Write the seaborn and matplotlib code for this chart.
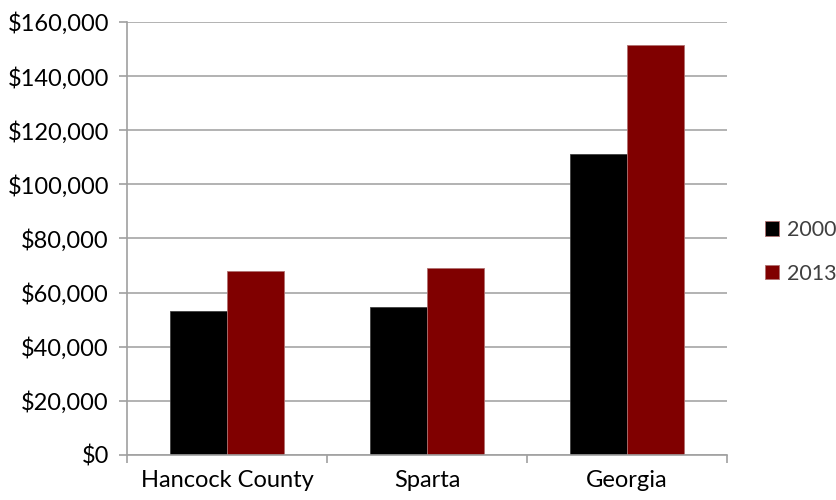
import pandas as pd
import seaborn as sns
import matplotlib.pyplot as plt
from matplotlib.ticker import FuncFormatter, FixedLocator

# median household income
places = ['Hancock County', 'Sparta', 'Georgia']
years = ['2000', '2013']
income_2000 = [53100, 54800, 111300]
income_2013 = [67900, 69100, 151400]

data = pd.DataFrame({
    'place': places * 2,
    'year': [years[0]] * 3 + [years[1]] * 3,
    'income': income_2000 + income_2013,
})

sns.set_style('white')
plt.rcParams['font.family'] = ['Lato', 'DejaVu Sans']

fig = plt.figure(figsize=(8.37, 5), dpi=100)
ax = fig.add_axes([127/837, 45/500, 600/837, 433/500])

sns.barplot(data=data, x='place', y='income', hue='year', order=places,
            hue_order=years, palette=['#000000', '#800000'], saturation=1,
            width=0.57, edgecolor='#b07070', linewidth=0.6, ax=ax)
for p in ax.patches[:3]:
    p.set_edgecolor('#404040')

ax.set_ylim(0, 160000)
ax.set_xlim(-0.5, 2.5)
ax.set_yticks(range(0, 160001, 20000))
ax.yaxis.set_major_formatter(FuncFormatter(lambda v, pos: '${:,.0f}'.format(v)))
ax.yaxis.grid(True, color='#a6a6a6', linewidth=1.2)
ax.set_axisbelow(True)
ax.set_xlabel('')
ax.set_ylabel('')

for s in ['top', 'right']:
    ax.spines[s].set_visible(False)
for s in ['left', 'bottom']:
    ax.spines[s].set_color('#a0a0a0')
    ax.spines[s].set_linewidth(1.2)

ax.tick_params(axis='y', left=True, length=6, color='#a0a0a0', width=1.2,
               labelsize=17, pad=7, labelcolor='black')
ax.tick_params(axis='x', which='major', length=0, labelsize=17, pad=11,
               labelcolor='black')
ax.xaxis.set_minor_locator(FixedLocator([-0.5, 0.5, 1.5, 2.5]))
ax.tick_params(axis='x', which='minor', bottom=True, length=6,
               color='#a0a0a0', width=1.2)

handles, labels = ax.get_legend_handles_labels()
ax.legend_.remove()
fig.legend(handles, labels, loc='center left', bbox_to_anchor=(765/837, 1 - 252/500),
           frameon=False, fontsize=15.5, handlelength=0.65, handleheight=0.65,
           handletextpad=0.35, labelspacing=1.1, labelcolor='#404040',
           borderpad=0, borderaxespad=0)

plt.savefig('out.png', dpi=100)
